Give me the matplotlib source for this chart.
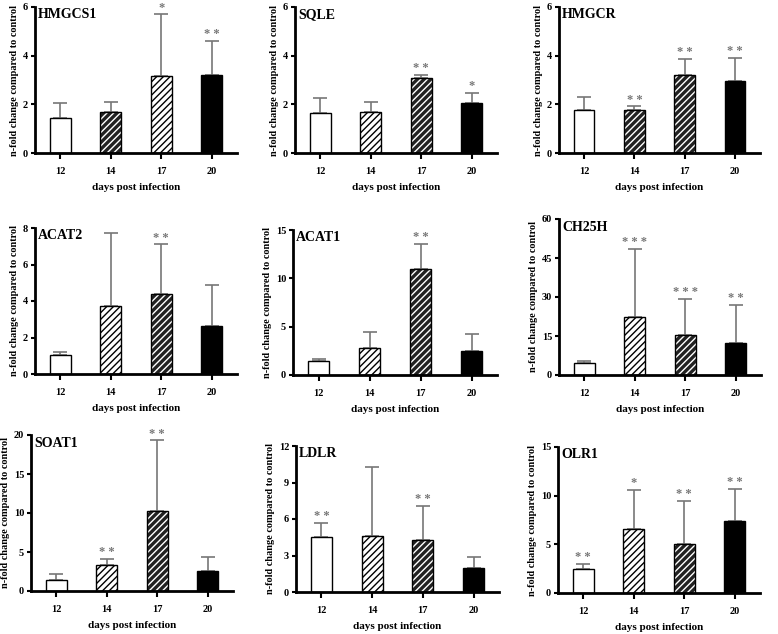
import matplotlib
matplotlib.use("Agg")
import matplotlib.pyplot as plt

plt.rcParams['font.family'] = ['Liberation Serif', 'DejaVu Serif']
plt.rcParams['font.weight'] = 'bold'
plt.rcParams['hatch.linewidth'] = 1.0

days = ['12', '14', '17', '20']

genes = ['HMGCS1', 'SQLE', 'HMGCR', 'ACAT2', 'ACAT1', 'CH25H', 'SOAT1', 'LDLR', 'OLR1']

means = {
    'HMGCS1': [1.45, 1.7, 3.15, 3.2],
    'SQLE': [1.65, 1.7, 3.1, 2.05],
    'HMGCR': [1.78, 1.75, 3.22, 2.97],
    'ACAT2': [1.05, 3.72, 4.4, 2.62],
    'ACAT1': [1.5, 2.75, 11.0, 2.5],
    'CH25H': [4.8, 22.5, 15.3, 12.5],
    'SOAT1': [1.4, 3.3, 10.2, 2.6],
    'LDLR': [4.5, 4.6, 4.3, 2.0],
    'OLR1': [2.5, 6.6, 5.05, 7.4],
}
upper = {
    'HMGCS1': [2.05, 2.1, 5.7, 4.6],
    'SQLE': [2.25, 2.08, 3.22, 2.48],
    'HMGCR': [2.3, 1.92, 3.88, 3.92],
    'ACAT2': [1.2, 7.75, 7.1, 4.9],
    'ACAT1': [1.7, 4.45, 13.6, 4.2],
    'CH25H': [5.3, 48.5, 29.2, 27.0],
    'SOAT1': [2.2, 4.1, 19.3, 4.4],
    'LDLR': [5.7, 10.3, 7.05, 2.85],
    'OLR1': [3.0, 10.6, 9.45, 10.7],
}
stars = {
    'HMGCS1': ['', '', '*', '**'],
    'SQLE': ['', '', '**', '*'],
    'HMGCR': ['', '**', '**', '**'],
    'ACAT2': ['', '', '**', ''],
    'ACAT1': ['', '', '**', ''],
    'CH25H': ['', '***', '***', '**'],
    'SOAT1': ['', '**', '**', ''],
    'LDLR': ['**', '', '**', ''],
    'OLR1': ['**', '*', '**', '**'],
}
yticks = {
    'HMGCS1': [0, 2, 4, 6],
    'SQLE': [0, 2, 4, 6],
    'HMGCR': [0, 2, 4, 6],
    'ACAT2': [0, 2, 4, 6, 8],
    'ACAT1': [0, 5, 10, 15],
    'CH25H': [0, 15, 30, 45, 60],
    'SOAT1': [0, 5, 10, 15, 20],
    'LDLR': [0, 3, 6, 9, 12],
    'OLR1': [0, 5, 10, 15],
}
# pattern of the day-14 and day-17 bars: 'L' light hatch, 'D' dark hatch
patterns = {
    'HMGCS1': 'DL', 'SQLE': 'LD', 'HMGCR': 'DD', 'ACAT2': 'LD', 'ACAT1': 'LD',
    'CH25H': 'LD', 'SOAT1': 'LD', 'LDLR': 'LD', 'OLR1': 'LD',
}

W, H = 778, 634
# axes boxes in pixels: left, right, top, bottom (y from top)
boxes = {
    'HMGCS1': (35, 237, 7, 153),
    'SQLE': (295, 497, 7, 153),
    'HMGCR': (559, 760, 7, 153),
    'ACAT2': (35, 237, 228, 374),
    'ACAT1': (293, 497, 230, 375),
    'CH25H': (559, 761, 219, 375),
    'SOAT1': (31, 233, 435, 591),
    'LDLR': (296, 499, 446, 592),
    'OLR1': (558, 760, 447, 593),
}

fig = plt.figure(figsize=(W / 100, H / 100), dpi=100)

for g in genes:
    l, r, t, b = boxes[g]
    ax = fig.add_axes([l / W, 1 - b / H, (r - l) / W, (b - t) / H])
    x = [0, 1, 2, 3]
    m = means[g]
    up = [u - v for u, v in zip(upper[g], m)]
    ax.errorbar(x, m, yerr=[[0] * 4, up], fmt='none', ecolor='#777777',
                elinewidth=1.2, capsize=5, capthick=1.2, zorder=1)
    styles = ['W', patterns[g][0], patterns[g][1], 'B']
    for xi, mi, st in zip(x, m, styles):
        if st == 'W':
            ax.bar(xi, mi, 0.41, color='white', edgecolor='black', lw=1, zorder=2)
        elif st == 'B':
            ax.bar(xi, mi, 0.41, color='black', edgecolor='black', lw=1, zorder=2)
        elif st == 'L':
            ax.bar(xi, mi, 0.41, color='white', edgecolor='black', hatch='/////', lw=0, zorder=2)
            ax.bar(xi, mi, 0.41, fill=False, edgecolor='black', lw=1, zorder=3)
        else:
            ax.bar(xi, mi, 0.41, color='#222222', edgecolor='white', hatch='/////', lw=0, zorder=2)
            ax.bar(xi, mi, 0.41, fill=False, edgecolor='black', lw=1, zorder=3)
    ymax = yticks[g][-1]
    for xi, u, s in zip(x, upper[g], stars[g]):
        if s:
            ax.text(xi, u + ymax * 0.005, ' '.join(s), ha='center', va='bottom',
                    color='#777777', fontsize=9, fontweight='bold')
    ax.set_xlim(-0.5, 3.5)
    ax.set_ylim(0, ymax)
    ax.set_yticks(yticks[g])
    ax.set_xticks(x)
    ax.set_xticklabels(days)
    ax.tick_params(axis='both', labelsize=7.5, width=1.5, length=3, pad=2)
    ax.tick_params(axis='x', length=4, pad=6)
    for lab in ax.get_xticklabels() + ax.get_yticklabels():
        lab.set_fontweight('bold')
    for s in ['top', 'right']:
        ax.spines[s].set_visible(False)
    for s in ['left', 'bottom']:
        ax.spines[s].set_linewidth(2)
    ax.set_xlabel('days post infection', fontsize=8, fontweight='bold', labelpad=5)
    ax.set_ylabel('n-fold change compared to control', fontsize=7.4, fontweight='bold', labelpad=3)
    ax.text(0.015, 0.99, g, transform=ax.transAxes, ha='left', va='top',
            fontsize=10, fontweight='bold')

fig.savefig('out.png', dpi=100)
